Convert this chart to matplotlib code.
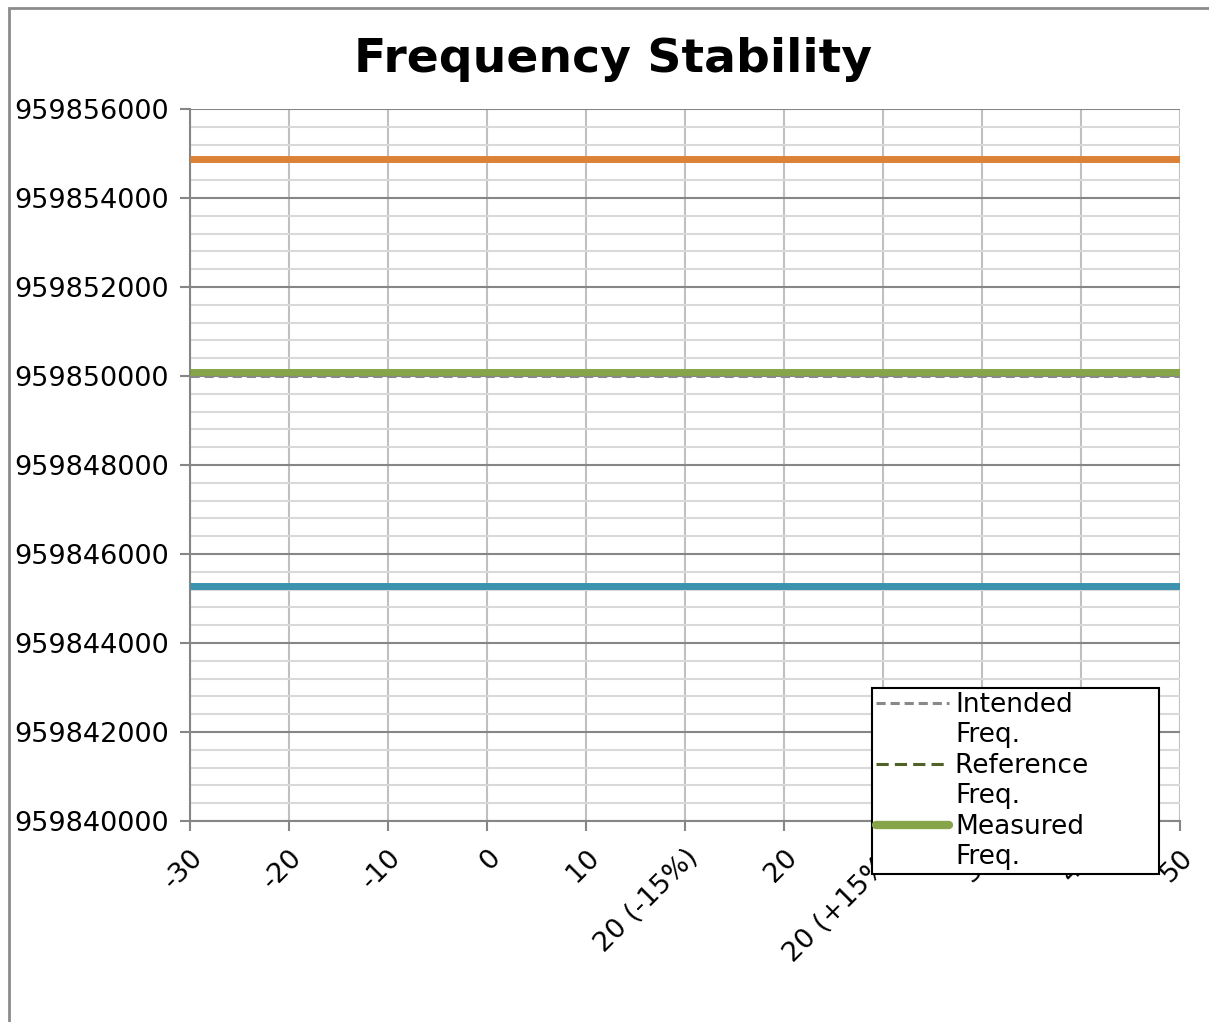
import matplotlib
matplotlib.use("Agg")
import matplotlib.pyplot as plt
from matplotlib.lines import Line2D
from matplotlib.patches import Rectangle
from matplotlib.ticker import MultipleLocator, FuncFormatter
import numpy as np

# temperature / voltage conditions on the category axis
categories = ["-30", "-20", "-10", "0", "10", "20 (-15%)", "20",
              "20 (+15%)", "30", "40", "50"]

intended_freq = [959850000] * 11
reference_freq = [959850080] * 11
measured_freq = [959850080] * 11
upper_limit = [959854880] * 11
lower_limit = [959845280] * 11

FONT = "DejaVu Sans"
GREY_MAJOR = "#868686"
GREY_MINOR = "#d9d9d9"
GREY_VERT = "#c0c0c0"
C_INTENDED = "#898989"
C_REFERENCE = "#4f6228"
C_MEASURED = "#86a44a"

fig = plt.figure(figsize=(12.09, 10.22), dpi=100)
ax = fig.add_axes([190 / 1209, 1 - 821 / 1022, 990 / 1209, 712 / 1022])

x = np.arange(len(categories))

ax.plot(x, upper_limit, color="#dc8238", lw=5, solid_capstyle="butt", zorder=3)
ax.plot(x, lower_limit, color="#3c93ae", lw=5, solid_capstyle="butt", zorder=3)
ax.plot(x, intended_freq, color=C_INTENDED, lw=2.2, ls=(0, (3, 1.6)), zorder=3)
ax.plot(x, reference_freq, color=C_REFERENCE, lw=2.2, ls=(0, (4, 2)), zorder=4)
ax.plot(x, measured_freq, color=C_MEASURED, lw=5, solid_capstyle="butt", zorder=5)

ax.set_xlim(0, len(categories) - 1)
ax.set_ylim(959840000, 959856000)
ax.yaxis.set_major_locator(MultipleLocator(2000))
ax.yaxis.set_minor_locator(MultipleLocator(400))
ax.yaxis.set_major_formatter(FuncFormatter(lambda v, p: f"{v:.0f}"))
ax.set_xticks(x)
ax.set_xticklabels(categories, rotation=45, ha="right", rotation_mode="anchor",
                   fontsize=19.5, family=FONT)
for lbl in ax.get_yticklabels():
    lbl.set_fontsize(19.5)
    lbl.set_family(FONT)

ax.grid(axis="y", which="major", color=GREY_MAJOR, lw=1.5, zorder=1)
ax.grid(axis="y", which="minor", color=GREY_MINOR, lw=1.5, zorder=1)
ax.grid(axis="x", which="major", color=GREY_VERT, lw=1.5, zorder=1)
ax.set_axisbelow(True)

ax.spines["top"].set_visible(False)
ax.spines["right"].set_visible(False)
for side in ("left", "bottom"):
    ax.spines[side].set_color(GREY_MAJOR)
    ax.spines[side].set_linewidth(1.5)
ax.tick_params(axis="both", which="major", length=7, width=1.5, color=GREY_MAJOR,
               labelcolor="black")
ax.tick_params(axis="y", which="minor", length=0)
ax.tick_params(axis="x", pad=10)
ax.tick_params(axis="y", pad=8)

fig.text(613 / 1209, 1 - 60 / 1022, "Frequency Stability", ha="center", va="center",
         fontsize=34, fontweight="bold", family=FONT)

# chart area border (right and bottom edges fall outside the image)
fig.patches.append(Rectangle((9 / 1209, -0.1), 1.2, 1 - 8 / 1022 + 0.1,
                             transform=fig.transFigure, fill=False,
                             edgecolor="#8c8c8c", lw=2))

blank = Line2D([], [], color="none")
handles = [
    Line2D([], [], color=C_INTENDED, lw=2.2, ls=(0, (3, 1.6))), blank,
    Line2D([], [], color=C_REFERENCE, lw=2.2, ls=(0, (4, 2))), blank,
    Line2D([], [], color=C_MEASURED, lw=6, solid_capstyle="round"), blank,
]
labels = ["Intended", "Freq.", "Reference        ", "Freq.", "Measured", "Freq."]
leg = fig.legend(handles, labels, loc="upper left",
                 bbox_to_anchor=(872 / 1209, 1 - 688 / 1022),
                 prop={"family": FONT, "size": 19}, frameon=True, fancybox=False,
                 edgecolor="black", framealpha=1, handlelength=2.75,
                 handletextpad=0.25, labelspacing=0.17, borderpad=0.15,
                 borderaxespad=0)
leg.get_frame().set_linewidth(1.5)

fig.savefig("out.png", dpi=100)
